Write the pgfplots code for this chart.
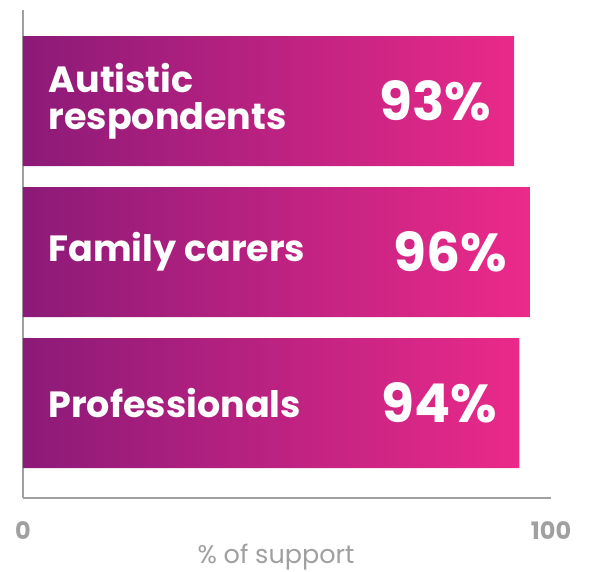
\documentclass[border=0pt]{standalone}
\usepackage{pgfplots}
\pgfplotsset{compat=1.18}
\usepackage{fontspec}
\setmainfont{Poppins}

\definecolor{barleft}{RGB}{140,26,120}
\definecolor{barright}{RGB}{236,42,138}
\definecolor{axisgray}{RGB}{160,160,160}

\begin{document}
\begin{tikzpicture}
\useasboundingbox (-23pt,-74pt) rectangle (566pt,498pt);
\begin{axis}[
    scale only axis,
    width=528pt, height=488pt,
    xmin=0, xmax=100,
    ymin=0.371, ymax=3.603,
    axis lines*=left,
    axis line style={axisgray, line width=2.5pt, -},
    xtick={0,100},
    ytick=\empty,
    major tick length=0pt,
    /pgf/number format/assume math mode=true,
    xticklabel style={axisgray, font=\fontsize{24}{28}\selectfont\bfseries, yshift=-20pt},
    xlabel={\% of support},
    xlabel style={axisgray, font=\fontsize{25.5}{28}\selectfont, yshift=2pt, xshift=-11pt},
    clip=false,
]
\addplot[xbar, bar width=130pt, draw=none, left color=barleft, right color=barright,
    nodes near coords={\pgfmathprintnumber{\pgfplotspointmeta}\%},
    every node near coord/.append style={anchor=east, xshift=-19pt, text=white,
        font=\fontsize{53.5}{58}\selectfont\bfseries}]
    coordinates {(93,3) (96,2) (94,1)};
\node[anchor=west, text=white, align=left, font=\fontsize{36.5}{37}\selectfont\bfseries]
    at (axis cs:0,3) [xshift=22pt] {Autistic\\respondents};
\node[anchor=west, text=white, font=\fontsize{36.5}{37}\selectfont\bfseries]
    at (axis cs:0,2) [xshift=22pt] {Family carers};
\node[anchor=west, text=white, font=\fontsize{36.5}{37}\selectfont\bfseries]
    at (axis cs:0,1) [xshift=22pt] {Professionals};
\end{axis}
\end{tikzpicture}
\end{document}
